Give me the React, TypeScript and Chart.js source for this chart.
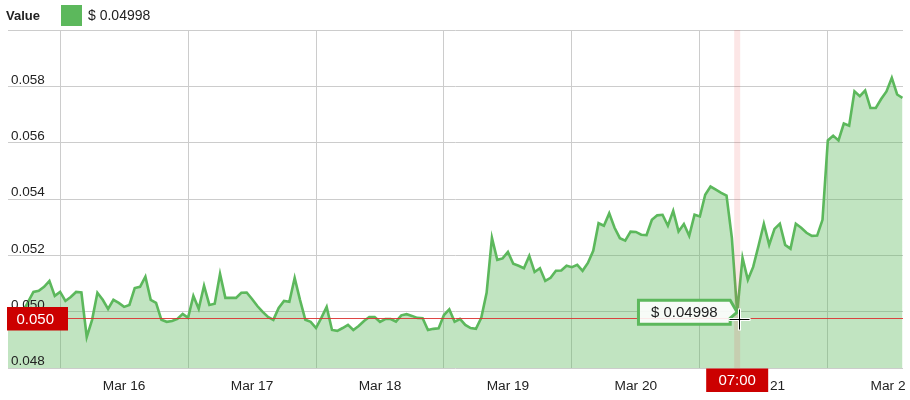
import React, { useEffect, useRef } from 'react';
import { Chart, registerables } from 'chart.js';

Chart.register(...registerables);

// hours are counted from Mar 16 00:00
const START_HOUR = -10;
const X_MIN = -9.77;
const X_MAX = 158.1;

const values = [
  0.04985, 0.04992, 0.04978, 0.04999, 0.05035, 0.05070, 0.05074, 0.05088, 0.05109, 0.05056,
  0.05070, 0.05038, 0.05052, 0.05070, 0.05068, 0.04910, 0.04971, 0.05067, 0.05042, 0.05010,
  0.05042, 0.05031, 0.05017, 0.05024, 0.05084, 0.05088, 0.05124, 0.05042, 0.05031, 0.04971,
  0.04964, 0.04967, 0.04974, 0.04992, 0.04978, 0.05056, 0.05010, 0.05092, 0.05024, 0.05028,
  0.05134, 0.05049, 0.05049, 0.05049, 0.05067, 0.05068, 0.05045, 0.05020, 0.04999, 0.04981,
  0.04971, 0.05013, 0.05038, 0.05035, 0.05120, 0.05042, 0.04971, 0.04964, 0.04942, 0.04978,
  0.05017, 0.04935, 0.04932, 0.04942, 0.04953, 0.04935, 0.04949, 0.04967, 0.04981, 0.04981,
  0.04964, 0.04974, 0.04974, 0.04965, 0.04987, 0.04991, 0.04985, 0.04978, 0.04977, 0.04935,
  0.04939, 0.04941, 0.04988, 0.05008, 0.04964, 0.04974, 0.04953, 0.04942, 0.04939, 0.04978,
  0.05067, 0.05262, 0.05184, 0.05189, 0.05212, 0.05170, 0.05163, 0.05154, 0.05198, 0.05141,
  0.05154, 0.05109, 0.05120, 0.05145, 0.05146, 0.05163, 0.05158, 0.05166, 0.05145, 0.05173,
  0.05216, 0.05314, 0.05305, 0.05349, 0.05298, 0.05261, 0.05252, 0.05284, 0.05283, 0.05273,
  0.05272, 0.05326, 0.05342, 0.05344, 0.05305, 0.05358, 0.05285, 0.05311, 0.05269, 0.05344,
  0.05338, 0.05415, 0.05444, 0.05433, 0.05422, 0.05412, 0.05262, 0.04998, 0.05191, 0.05113,
  0.05159, 0.05234, 0.05312, 0.05237, 0.05294, 0.05312, 0.05237, 0.05223, 0.05312, 0.05298,
  0.05280, 0.05269, 0.05270, 0.05326, 0.05608, 0.05625, 0.05608, 0.05668, 0.05660, 0.05782,
  0.05765, 0.05785, 0.05723, 0.05723, 0.05755, 0.05782, 0.05830, 0.05771, 0.05759,
];

const dayLabels = ['Mar 16', 'Mar 17', 'Mar 18', 'Mar 19', 'Mar 20', 'Mar 21', 'Mar 22'];
const dayStartHours = [0, 24, 48, 72, 96, 120, 144];
const Y_MIN = 0.048;
const Y_MAX = 0.06;
const Y_STEP = 0.002;

const seriesName = 'Value';
const hoverHour = 127; // Mar 21 07:00
const hoverTimeLabel = '07:00';
const cursorValue = 0.04978;

const GREEN = 'rgb(92,184,92)';
const FILL = 'rgba(92,184,92,0.38)';
const GRID = '#cccccc';
const TEXT = '#222222';
const RED = '#cc0000';
const FONT = 'Arial, "Liberation Sans", sans-serif';

export default function App() {
  const ref = useRef<HTMLCanvasElement>(null);

  useEffect(() => {
    const canvas = ref.current;
    if (!canvas) return;
    const points = values.map((v, i) => ({ x: START_HOUR + i, y: v }));
    const hoverValue = values[hoverHour - START_HOUR];

    const zeroPad = (s: any) => {
      s.paddingLeft = 0;
      s.paddingRight = 0;
      s.paddingTop = 0;
      s.paddingBottom = 0;
    };

    const overlay = {
      id: 'overlay',
      afterDraw(chart: any) {
        const { ctx, chartArea: ca, scales } = chart;
        const x = scales.x.getPixelForValue(hoverHour);
        const py = scales.y.getPixelForValue(hoverValue);
        const cy = Math.round(scales.y.getPixelForValue(cursorValue)) + 0.5;
        ctx.save();

        // vertical crosshair band
        ctx.fillStyle = 'rgba(230,60,60,0.13)';
        ctx.fillRect(x - 3, ca.top, 6, ca.bottom - ca.top);

        // horizontal crosshair line
        ctx.strokeStyle = 'rgba(220,50,50,0.9)';
        ctx.lineWidth = 1;
        ctx.beginPath();
        ctx.moveTo(ca.left, cy);
        ctx.lineTo(ca.right, cy);
        ctx.stroke();

        // tooltip bubble
        const text = '$ ' + hoverValue.toFixed(5);
        ctx.font = '15px ' + FONT;
        const tw = ctx.measureText(text).width;
        const right = x - 7;
        const left = right - tw - 25;
        const top = py - 12;
        const bottom = py + 12;
        ctx.beginPath();
        ctx.moveTo(left, top);
        ctx.lineTo(right, top);
        ctx.lineTo(x, py);
        ctx.lineTo(right, py + 6);
        ctx.lineTo(right, bottom);
        ctx.lineTo(left, bottom);
        ctx.closePath();
        ctx.fillStyle = 'rgba(255,255,255,0.88)';
        ctx.fill();
        ctx.strokeStyle = GREEN;
        ctx.lineWidth = 3;
        ctx.lineJoin = 'miter';
        ctx.stroke();
        ctx.fillStyle = TEXT;
        ctx.textBaseline = 'middle';
        ctx.textAlign = 'left';
        ctx.fillText(text, left + 12.5, py + 1);

        // left value label
        ctx.fillStyle = RED;
        ctx.fillRect(7, cy - 11.5, 61, 23.5);
        ctx.fillStyle = '#ffffff';
        ctx.font = '15px ' + FONT;
        ctx.fillText(cursorValue.toFixed(3), 16.5, cy + 1);

        // bottom time label
        ctx.fillStyle = RED;
        ctx.fillRect(x - 31, ca.bottom + 0.5, 62, 23.5);
        ctx.fillStyle = '#ffffff';
        ctx.textAlign = 'center';
        ctx.fillText(hoverTimeLabel, x, ca.bottom + 12.5);

        // mouse cursor cross
        const mx = Math.round(x + 2) + 0.5;
        const my = cy + 1;
        ctx.lineWidth = 3;
        ctx.strokeStyle = '#ffffff';
        ctx.beginPath();
        ctx.moveTo(mx - 11, my);
        ctx.lineTo(mx + 11, my);
        ctx.moveTo(mx, my - 11);
        ctx.lineTo(mx, my + 11);
        ctx.stroke();
        ctx.lineWidth = 1;
        ctx.strokeStyle = '#000000';
        ctx.beginPath();
        ctx.moveTo(mx - 10, my);
        ctx.lineTo(mx + 10, my);
        ctx.moveTo(mx, my - 10);
        ctx.lineTo(mx, my + 10);
        ctx.stroke();

        // legend
        ctx.textAlign = 'left';
        ctx.textBaseline = 'middle';
        ctx.fillStyle = TEXT;
        ctx.font = 'bold 13px ' + FONT;
        ctx.fillText(seriesName, 6, 16);
        ctx.fillStyle = GREEN;
        ctx.fillRect(61, 5, 21, 21);
        ctx.fillStyle = TEXT;
        ctx.font = '14px ' + FONT;
        ctx.fillText('$ ' + hoverValue.toFixed(5), 88, 16);

        ctx.restore();
      },
    };

    const chart = new Chart(canvas, {
      type: 'line',
      data: {
        datasets: [
          {
            label: seriesName,
            data: points,
            borderColor: GREEN,
            backgroundColor: FILL,
            fill: 'start',
            borderWidth: 2.6,
            pointRadius: 0,
            tension: 0,
          },
        ],
      },
      options: {
        animation: false,
        responsive: false,
        maintainAspectRatio: false,
        events: [],
        layout: { padding: { top: 30, left: 8, right: 2, bottom: 7 } },
        plugins: { legend: { display: false }, tooltip: { enabled: false } },
        scales: {
          x: {
            type: 'linear',
            position: 'bottom',
            min: X_MIN,
            max: X_MAX,
            grid: { color: GRID, drawTicks: false },
            border: { display: false },
            ticks: { display: false, autoSkip: false },
            afterBuildTicks: (s: any) => {
              s.ticks = dayStartHours.map((v) => ({ value: v }));
            },
            afterFit: (s: any) => {
              zeroPad(s);
              s.height = 0;
            },
          },
          xl: {
            type: 'linear',
            position: 'bottom',
            min: X_MIN,
            max: X_MAX,
            grid: { display: false, drawTicks: false },
            border: { display: false },
            ticks: {
              padding: 10,
              autoSkip: false,
              maxRotation: 0,
              color: TEXT,
              font: { family: FONT, size: 13.7 },
              callback: (_v: any, i: number) => dayLabels[i],
            },
            afterBuildTicks: (s: any) => {
              s.ticks = dayStartHours.map((v) => ({ value: v + 12 }));
            },
            afterFit: (s: any) => {
              zeroPad(s);
              s.height = 25;
            },
          },
          y: {
            type: 'linear',
            position: 'left',
            min: Y_MIN,
            max: Y_MAX,
            grid: { color: GRID, drawTicks: false },
            border: { display: false },
            ticks: {
              stepSize: Y_STEP,
              mirror: true,
              padding: 3,
              labelOffset: -6.5,
              z: 1,
              color: TEXT,
              font: { family: FONT, size: 13.5 },
              callback: (v: any) => (v >= Y_MAX - 0.0001 ? '' : Number(v).toFixed(3)),
            },
            afterFit: (s: any) => {
              zeroPad(s);
              s.width = 0;
            },
          },
        },
      },
      plugins: [overlay],
    } as any);

    return () => chart.destroy();
  }, []);

  return (
    <div style={{ position: 'absolute', left: 0, top: 0, width: 905, height: 400 }}>
      <canvas ref={ref} width={905} height={400} style={{ display: 'block' }} />
    </div>
  );
}
